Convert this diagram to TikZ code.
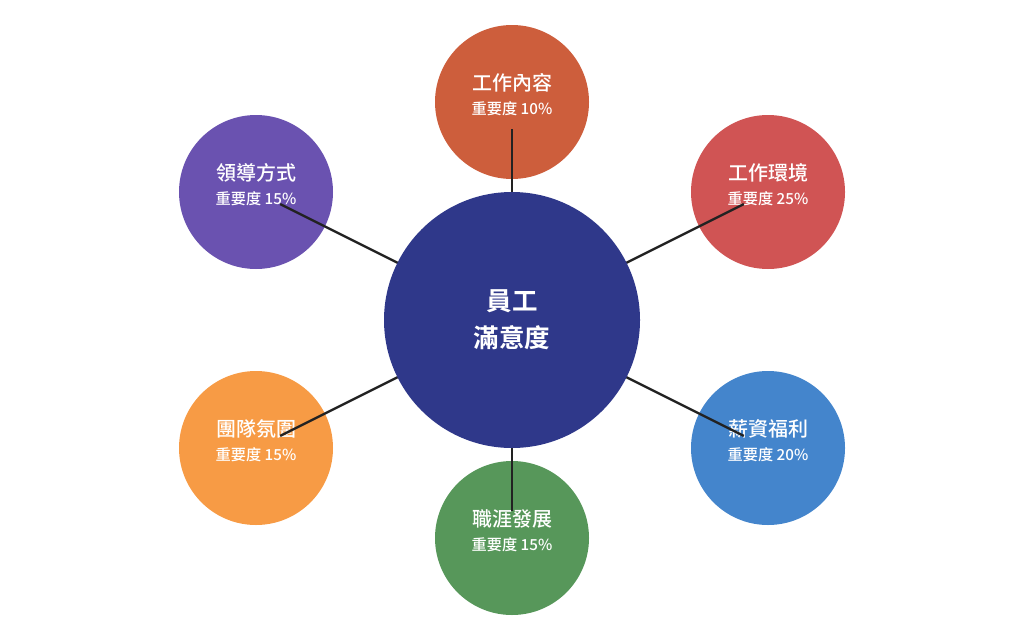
\documentclass[tikz,border=0pt]{standalone}
\usepackage{fontspec}
\newfontfamily\cjk{Noto Sans CJK TC}
\newfontfamily\cjkmed{Noto Sans CJK TC Medium}
\newfontfamily\cjkbold{Noto Sans CJK TC Bold}
\definecolor{cTop}{HTML}{CD5E3C}
\definecolor{cUR}{HTML}{D05454}
\definecolor{cUL}{HTML}{6A52B0}
\definecolor{cLL}{HTML}{F79B45}
\definecolor{cLR}{HTML}{4485CC}
\definecolor{cBot}{HTML}{57975A}
\definecolor{cCen}{HTML}{2F388A}
\definecolor{cLine}{HTML}{222222}
\tikzset{
  outer/.style={circle, minimum size=154pt, inner sep=0pt},
  center/.style={circle, minimum size=256pt, inner sep=0pt, fill=cCen},
  ttl/.style={text=white, font=\cjkmed\fontsize{20}{22}\selectfont},
  sub/.style={text=white, font=\cjkmed\fontsize{15.2}{17}\selectfont},
  ctext/.style={text=white, align=center, font=\cjkbold\fontsize{25.5}{37}\selectfont},
  link/.style={draw=cLine, line width=2.4pt, shorten >=27pt}
}
\begin{document}
\begin{tikzpicture}[x=1pt,y=1pt]
\useasboundingbox (0,0) rectangle (1024,-640);
% outer circles
\node[outer, fill=cTop] (top) at (512,-102) {};
\node[outer, fill=cUR] (ur) at (768,-192) {};
\node[outer, fill=cUL] (ul) at (256,-192) {};
\node[outer, fill=cLL] (ll) at (256,-448) {};
\node[outer, fill=cLR] (lr) at (768,-448) {};
\node[outer, fill=cBot] (bot) at (512,-538) {};
% labels
\foreach \n/\t/\s in {top/工作內容/重要度 10\%, ur/工作環境/重要度 25\%, ul/領導方式/重要度 15\%, ll/團隊氛圍/重要度 15\%, lr/薪資福利/重要度 20\%, bot/職涯發展/重要度 15\%}{
  \node[ttl] (\n-t) at ([yshift=19.5pt]\n.center) {\t};
  \node[sub] (\n-s) at ([yshift=-7pt]\n.center) {\s};
}
\coordinate (cc) at (512,-320);
\foreach \n in {top,ur,ul,ll,lr,bot}{
  \draw[link] (cc) -- (\n.center);
}
\node[center] (c) at (512,-320) {};
\node[ctext] (c-t) at (c.center) {員工\\滿意度};
\end{tikzpicture}
\end{document}
